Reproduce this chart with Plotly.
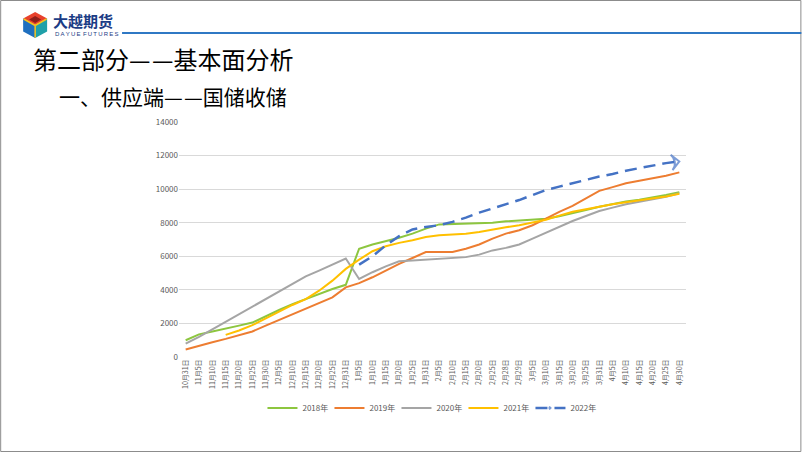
import plotly.graph_objects as go

categories = ["10月31日","11月5日","11月10日","11月15日","11月20日","11月25日","11月30日",
              "12月5日","12月10日","12月15日","12月20日","12月25日","12月31日",
              "1月5日","1月10日","1月15日","1月20日","1月25日","1月31日",
              "2月5日","2月10日","2月15日","2月20日","2月25日","2月28日","2月29日",
              "3月5日","3月10日","3月15日","3月20日","3月25日","3月31日",
              "4月5日","4月10日","4月15日","4月20日","4月25日","4月30日"]

y2018 = [1000, 1350, 1520, 1680, 1870, 2050, 2450, 2800, 3150, 3450, 3750, 4050, 4300,
         6450, 6700, 6900, 7100, 7350, 7650, 7900, 7930, 7930, 7950, 8000, 8080, 8140,
         8180, 8240, 8380, 8550, 8750, 8950, 9120, 9260, 9370, 9500, 9650, 9820]
y2019 = [450, 680, 880, 1080, 1280, 1520, 1870, 2200, 2520, 2860, 3200, 3550, 4150,
         4400, 4750, 5150, 5550, 5900, 6250, 6250, 6250, 6450, 6700, 7050, 7350, 7550,
         7850, 8250, 8650, 9000, 9450, 9900, 10120, 10350, 10500, 10650, 10800, 11000]
y2020 = [800, 1200, 1650, 2100, 2550, 3000, 3500, 3950, 4400, 4800, 5150, 5500, 5870,
         4650, 5050, 5400, 5700, 5750, 5800, 5850, 5900, 5950, 6100, 6350, 6500, 6700,
         7050, 7400, 7750, 8100, 8400, 8700, 8900, 9100, 9250, 9400, 9550, 9750]
y2021 = [None, None, None, 1320, 1580, 1900, 2300, 2700, 3100, 3450, 3950, 4550, 5250,
         5800, 6300, 6600, 6800, 6950, 7150, 7250, 7300, 7350, 7450, 7600, 7730, 7850,
         8000, 8180, 8420, 8650, 8800, 8970, 9100, 9220, 9330, 9430, 9560, 9720]
y2022 = [None] * 13 + [5500, 6000, 6650, 7200, 7600, 7750, 7850, 8050, 8300, 8600, 8850,
                       9100, 9350, 9650, 9950, 10150, 10350, 10550, 10750, 10900, 11100,
                       11250, 11400, 11550, 11650]

series_names = ["2018年", "2019年", "2020年", "2021年", "2022年"]
y_ticks = [0, 2000, 4000, 6000, 8000, 10000, 12000, 14000]

W, H = 802, 452
L, R, T, B = 179, 686.5, 122, 357
PW, PH = R - L, B - T


def fx(x):
    return (x - L) / PW


def fy(y):
    return (B - y) / PH


FONT = "Noto Sans CJK SC"
fig = go.Figure()

colors = ["#8DC63F", "#ED7D31", "#A5A5A5", "#FFC000"]
for name, vals, c in zip(series_names[:4], [y2018, y2019, y2020, y2021], colors):
    fig.add_trace(go.Scatter(x=categories, y=vals, name=name, mode="lines",
                             line=dict(color=c, width=2), connectgaps=False))

sizes = [0] * (len(categories) - 1) + [11]
fig.add_trace(go.Scatter(x=categories, y=y2022, name=series_names[4], mode="lines+markers",
                         line=dict(color="#4472C4", width=2.5, dash="12px,7px"),
                         marker=dict(symbol="arrow-wide-open", angleref="previous", size=sizes,
                                     color="#4472C4", line=dict(color="#4472C4", width=2)),
                         connectgaps=False))

shapes = []
# slide border
shapes.append(dict(type="rect", xref="paper", yref="paper", x0=fx(0.5), x1=fx(801.5),
                   y0=fy(451.5), y1=fy(0.5), line=dict(color="#8C8C8C", width=1)))
# top blue rule
shapes.append(dict(type="line", xref="paper", yref="paper", x0=fx(122), x1=fx(802),
                   y0=fy(33), y1=fy(33), line=dict(color="#2F78C4", width=2)))


def poly(pts, fill, lw=0, lc=None):
    d = "M " + " L ".join(f"{fx(x):.5f},{fy(y):.5f}" for x, y in pts) + " Z"
    return dict(type="path", xref="paper", yref="paper", path=d, fillcolor=fill,
                line=dict(width=lw, color=lc or fill))


cx, cy = 35, 25
top = (35, 12); ur = (47, 18.5); lr = (47, 31.5); bot = (35, 38); ll = (23, 31.5); ul = (23, 18.5)
c = (cx, cy)
shapes.append(poly([top, ur, c, ul], "#E8412C"))
shapes.append(poly([ul, c, bot, ll], "#1F6FBF"))
shapes.append(poly([c, ur, lr, bot], "#1FA0A8"))
shapes.append(poly([(35, 16), (41, 19.5), (35, 23), (29, 19.5)], "#8E1F1A"))
shapes.append(dict(type="line", xref="paper", yref="paper", x0=fx(23.5), y0=fy(19),
                   x1=fx(35), y1=fy(25.5), line=dict(color="#F6C21C", width=1.5)))
shapes.append(dict(type="line", xref="paper", yref="paper", x0=fx(46.5), y0=fy(19),
                   x1=fx(35), y1=fy(25.5), line=dict(color="#F6C21C", width=1.5)))
shapes.append(dict(type="line", xref="paper", yref="paper", x0=fx(35), y0=fy(25.5),
                   x1=fx(35), y1=fy(37.5), line=dict(color="#F6C21C", width=1.5)))

sp = "\u2009"
annotations = [
    dict(text="<b>大越期货</b>", x=fx(51), y=fy(21), xanchor="left", yanchor="middle",
         font=dict(family=FONT, size=15, color="#1B3C85")),
    dict(text=sp.join("DAYUE") + sp + sp + sp.join("FUTURES"), x=fx(53), y=fy(34.5),
         xanchor="left", yanchor="middle",
         font=dict(family="Liberation Sans", size=6, color="#1B3C85")),
    dict(text="第二部分—\u200a—基本面分析", x=fx(31), y=fy(58), xanchor="left", yanchor="middle",
         font=dict(family=FONT, size=24, color="#000000")),
    dict(text="一、供应端—\u200a—国储收储", x=fx(57), y=fy(96), xanchor="left", yanchor="middle",
         font=dict(family=FONT, size=21, color="#000000")),
]
for a in annotations:
    a.update(xref="paper", yref="paper", showarrow=False)

fig.update_layout(
    width=W, height=H,
    margin=dict(l=L, r=W - R, t=T, b=H - B, autoexpand=False),
    paper_bgcolor="white", plot_bgcolor="white",
    template="none",
    font=dict(family=FONT, color="#595959"),
    shapes=shapes, annotations=annotations,
    legend=dict(orientation="h", x=0.495, xanchor="center", y=fy(408), yanchor="middle",
                font=dict(family=FONT, size=8, color="#595959"), itemwidth=30,
                entrywidth=22, bgcolor="rgba(0,0,0,0)", tracegroupgap=0),
    xaxis=dict(type="category", range=[-0.5, len(categories) - 0.5], tickangle=-90,
               tickfont=dict(family=FONT, size=7, color="#595959"), showgrid=False,
               showline=False, zeroline=False, ticks="", automargin=False),
    yaxis=dict(range=[0, 14000], tickvals=y_ticks, ticktext=[str(v) for v in y_ticks],
               tickfont=dict(family=FONT, size=8, color="#595959"), showgrid=True,
               gridcolor="#D9D9D9", gridwidth=1, zeroline=False, showline=False, ticks="",
               automargin=False),
)

fig.write_html("out.html", config={"displayModeBar": False},
               post_script="document.body.style.margin='0';")
